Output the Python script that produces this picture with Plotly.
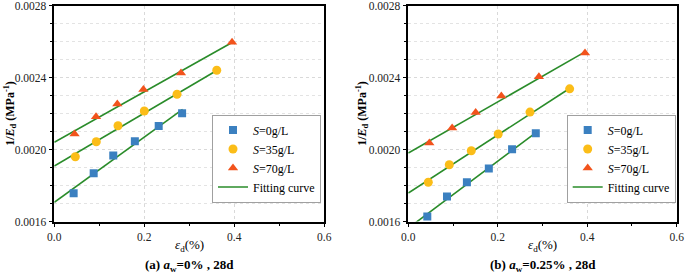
import plotly.graph_objects as go

# ---------------- data ----------------
strain_a_s0 = [0.043, 0.0875, 0.131, 0.179, 0.232, 0.284]
inv_e_a_s0 = [0.001757, 0.001868, 0.001966, 0.002046, 0.002131, 0.002201]
strain_a_s35 = [0.0467, 0.0933, 0.1416, 0.200, 0.2727, 0.361]
inv_e_a_s35 = [0.001960, 0.002043, 0.002132, 0.002214, 0.002307, 0.002440]
strain_a_s70 = [0.045, 0.0927, 0.140, 0.198, 0.2815, 0.395]
inv_e_a_s70 = [0.002086, 0.002182, 0.002253, 0.002334, 0.002425, 0.002596]

strain_b_s0 = [0.0425, 0.0865, 0.131, 0.180, 0.232, 0.285]
inv_e_b_s0 = [0.001628, 0.001739, 0.001818, 0.001894, 0.002001, 0.002090]
strain_b_s35 = [0.0447, 0.0916, 0.1408, 0.201, 0.272, 0.3607]
inv_e_b_s35 = [0.001818, 0.001915, 0.001993, 0.002086, 0.002208, 0.002337]
strain_b_s70 = [0.047, 0.098, 0.1506, 0.208, 0.292, 0.395]
inv_e_b_s70 = [0.002036, 0.002119, 0.002206, 0.002297, 0.002404, 0.002536]

# fitting-curve endpoints
fit_a_s0_x, fit_a_s0_y = [0.0, 0.285], [0.001707, 0.002223]
fit_a_s35_x, fit_a_s35_y = [0.0, 0.359], [0.001908, 0.002436]
fit_a_s70_x, fit_a_s70_y = [0.0, 0.394], [0.002040, 0.002593]
fit_b_s0_x, fit_b_s0_y = [0.0, 0.283], [0.001563, 0.002090]
fit_b_s35_x, fit_b_s35_y = [0.0, 0.356], [0.001758, 0.002332]
fit_b_s70_x, fit_b_s70_y = [0.0, 0.396], [0.001980, 0.002544]

series_names = ["<i>S</i>=0g/L", "<i>S</i>=35g/L", "<i>S</i>=70g/L"]
fit_name = "Fitting curve"
panel_titles = ["<b>(a) <i>a</i><sub>w</sub>=0% , 28d</b>",
                "<b>(b) <i>a</i><sub>w</sub>=0.25% , 28d</b>"]
x_title = "<i>ε</i><sub>d</sub>(%)"
y_title = "<b>1/<i>E</i><sub>d</sub> (MPa<sup>-1</sup>)</b>"
x_ticks = [0.0, 0.2, 0.4, 0.6]
x_tick_text = ["0.0", "0.2", "0.4", "0.6"]
y_ticks = [0.0016, 0.0020, 0.0024, 0.0028]
y_tick_text = ["0.0016", "0.0020", "0.0024", "0.0028"]

# ---------------- style ----------------
FONT = "Liberation Serif, Times New Roman, serif"
colors = ["#3b80c0", "#fbbd18", "#f2531c"]
symbols = ["square", "circle", "triangle-up"]
sizes = [8, 9, 9]
green = "#2a8c2a"

fig = go.Figure()

panels = [
    dict(xa="x", ya="y", legend="legend",
         pts=[(strain_a_s0, inv_e_a_s0), (strain_a_s35, inv_e_a_s35), (strain_a_s70, inv_e_a_s70)],
         fits=[(fit_a_s0_x, fit_a_s0_y), (fit_a_s35_x, fit_a_s35_y), (fit_a_s70_x, fit_a_s70_y)]),
    dict(xa="x2", ya="y2", legend="legend2",
         pts=[(strain_b_s0, inv_e_b_s0), (strain_b_s35, inv_e_b_s35), (strain_b_s70, inv_e_b_s70)],
         fits=[(fit_b_s0_x, fit_b_s0_y), (fit_b_s35_x, fit_b_s35_y), (fit_b_s70_x, fit_b_s70_y)]),
]

for p in panels:
    for i, (fx, fy) in enumerate(p["fits"]):
        fig.add_trace(go.Scatter(x=fx, y=fy, mode="lines", xaxis=p["xa"], yaxis=p["ya"],
                                 line=dict(color=green, width=1.6), name=fit_name,
                                 legend=p["legend"], showlegend=False, legendrank=10,
                                 hoverinfo="skip"))
    for i, (sx, sy) in enumerate(p["pts"]):
        fig.add_trace(go.Scatter(x=sx, y=sy, mode="markers", xaxis=p["xa"], yaxis=p["ya"],
                                 marker=dict(symbol=symbols[i], size=sizes[i], color=colors[i],
                                             line=dict(width=0)),
                                 name=series_names[i], legend=p["legend"], legendrank=i + 1))
    fig.add_trace(go.Scatter(x=[None], y=[None], mode="lines", xaxis=p["xa"], yaxis=p["ya"],
                             line=dict(color=green, width=1.6), name=fit_name,
                             legend=p["legend"], legendrank=10))

W, H = 685, 273
dom_a = [54.3 / W, 324.3 / W]
dom_b = [408.3 / W, 676.7 / W]
dom_y = [1 - 221.5 / H, 1 - 5.5 / H]

def xaxis(dom, anchor):
    return dict(domain=dom, anchor=anchor, range=[0, 0.6], tickvals=x_ticks, ticktext=x_tick_text,
                automargin=False, ticklabeloverflow="allow",
                ticks="outside", ticklen=4, tickwidth=1, tickcolor="black",
                showline=True, linecolor="black", linewidth=1.5, mirror=True,
                showgrid=True, gridcolor="#d9d9d9", griddash="dot", gridwidth=1,
                zeroline=False,
                minor=dict(dtick=0.1, tick0=0, ticks="outside", ticklen=3, tickcolor="black",
                           showgrid=False),
                tickfont=dict(family=FONT, size=11.5, color="#222222"))

def yaxis(dom, anchor):
    return dict(domain=dom, anchor=anchor, range=[0.0016, 0.0028], tickvals=y_ticks, ticktext=y_tick_text,
                automargin=False, ticklabeloverflow="allow",
                ticks="outside", ticklen=4, tickwidth=1, tickcolor="black",
                showline=True, linecolor="black", linewidth=1.5, mirror=True,
                showgrid=True, gridcolor="#d9d9d9", griddash="dot", gridwidth=1,
                zeroline=False,
                minor=dict(dtick=0.0001, tick0=0.0016, ticks="outside", ticklen=3, tickcolor="black",
                           showgrid=True, gridcolor="#e3e3e3", griddash="dot"),
                tickfont=dict(family=FONT, size=11.5, color="#222222"))

legend_style = dict(font=dict(family=FONT, size=12, color="black"), bgcolor="white",
                    bordercolor="#a0a0a0", borderwidth=1, xanchor="left", yanchor="middle",
                    tracegroupgap=0, itemwidth=30, traceorder="normal")

annotations = []
title_offsets = [44, 46]
for k, (dom, title) in enumerate(((dom_a, panel_titles[0]), (dom_b, panel_titles[1]))):
    cx = (dom[0] + dom[1]) / 2
    annotations.append(dict(text=title, x=cx, y=1 - 265 / H, xref="paper", yref="paper",
                            xanchor="center", yanchor="middle",
                            showarrow=False, font=dict(family=FONT, size=13, color="black")))
    annotations.append(dict(text=x_title, x=cx, y=1 - 245 / H, xref="paper", yref="paper",
                            xanchor="center", yanchor="middle",
                            showarrow=False, font=dict(family=FONT, size=13, color="black")))
    annotations.append(dict(text=y_title, x=dom[0] - title_offsets[k] / W, y=(dom_y[0] + dom_y[1]) / 2,
                            xref="paper", yref="paper", textangle=-90, showarrow=False,
                            xanchor="center", yanchor="middle",
                            font=dict(family=FONT, size=12, color="black")))

fig.update_layout(
    width=W, height=H, margin=dict(l=0, r=0, t=0, b=0, autoexpand=False),
    paper_bgcolor="white", plot_bgcolor="white",
    font=dict(family=FONT, color="black"),
    xaxis=xaxis(dom_a, "y"), yaxis=yaxis(dom_y, "x"),
    xaxis2=xaxis(dom_b, "y2"), yaxis2=yaxis(dom_y, "x2"),
    legend=dict(x=212 / W, y=1 - 158.5 / H, **legend_style),
    legend2=dict(x=566.7 / W, y=1 - 158.5 / H, **legend_style),
    annotations=annotations,
)

fig.write_html("out.html", config={"displayModeBar": False},
               post_script="document.body.style.margin='0';document.body.style.padding='0';")
